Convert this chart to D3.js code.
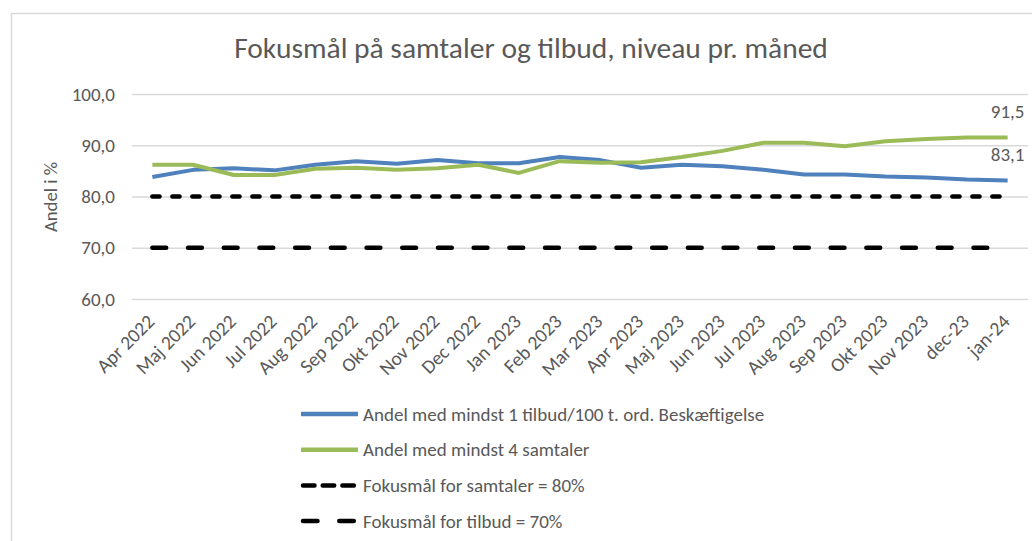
<!DOCTYPE html>
<html>
<head>
<meta charset="utf-8">
<script src="https://cdn.jsdelivr.net/npm/d3@7"></script>
<style>
  body { margin: 0; background: #fff; }
  text { font-family: Carlito, Calibri, Lato, sans-serif; fill: #595959; }
</style>
</head>
<body>
<div id="chart"></div>
<script>
// data
var months = ["Apr 2022", "Maj 2022", "Jun 2022", "Jul 2022", "Aug 2022", "Sep 2022",
  "Okt 2022", "Nov 2022", "Dec 2022", "Jan 2023", "Feb 2023", "Mar 2023", "Apr 2023",
  "Maj 2023", "Jun 2023", "Jul 2023", "Aug 2023", "Sep 2023", "Okt 2023", "Nov 2023",
  "dec-23", "jan-24"];
var tilbud = [83.8, 85.2, 85.5, 85.1, 86.2, 86.9, 86.4, 87.1, 86.5, 86.5, 87.7, 87.1,
  85.6, 86.2, 85.9, 85.2, 84.3, 84.3, 83.9, 83.7, 83.3, 83.1];
var samtaler = [86.2, 86.2, 84.2, 84.2, 85.4, 85.6, 85.2, 85.5, 86.2, 84.6, 86.9, 86.6,
  86.7, 87.7, 88.9, 90.5, 90.5, 89.8, 90.8, 91.2, 91.5, 91.5];
var maalSamtaler = 80;
var maalTilbud = 70;
var yTicks = [60, 70, 80, 90, 100];
var legendNames = ["Andel med mindst 1 tilbud/100 t. ord. Beskæftigelse",
  "Andel med mindst 4 samtaler", "Fokusmål for samtaler = 80%", "Fokusmål for tilbud = 70%"];

var svgWidth = 1032, svgHeight = 541;
var blue = "#4f81bd", green = "#9bbb59";
var font = "Carlito, Calibri, Lato, sans-serif";

var svg = d3.select("#chart").append("svg")
  .attr("width", svgWidth)
  .attr("height", svgHeight);

// chart frame
svg.append("rect")
  .attr("x", 11.5).attr("y", 13.5)
  .attr("width", 1100).attr("height", 700)
  .attr("fill", "none")
  .attr("stroke", "#d9d9d9")
  .attr("stroke-width", 1.5);

// title
svg.append("text")
  .attr("x", 531).attr("y", 58)
  .attr("text-anchor", "middle")
  .style("font-size", "29.5px")
  .text("Fokusmål på samtaler og tilbud, niveau pr. måned");

var x = d3.scalePoint().domain(months).range([132, 1028]).padding(0.5);
var y = d3.scaleLinear().domain([60, 100]).range([299, 94]);

// gridlines + y labels
var yAxis = d3.axisLeft(y).tickValues(yTicks)
  .tickSize(-(1028 - 132))
  .tickPadding(17)
  .tickFormat(d => d3.format(".1f")(d).replace(".", ","));

var gy = svg.append("g")
  .attr("transform", "translate(132,0)")
  .call(yAxis);
gy.select(".domain").remove();
gy.selectAll(".tick line").attr("stroke", "#d9d9d9").attr("stroke-width", 1.5);
gy.selectAll(".tick text")
  .style("font-size", "19px")
  .style("font-family", font)
  .attr("fill", "#595959");

// x labels
var xAxis = d3.axisBottom(x).tickSize(0);
var gx = svg.append("g")
  .attr("transform", "translate(0,299)")
  .call(xAxis);
gx.select(".domain").remove();
gx.selectAll(".tick text")
  .style("font-size", "19.5px")
  .style("font-family", font)
  .attr("fill", "#595959")
  .attr("text-anchor", "end")
  .attr("dy", "0.35em")
  .attr("y", 0)
  .attr("transform", "translate(-2,19) rotate(-45)");

// y axis title
svg.append("text")
  .attr("transform", "translate(57,197) rotate(-90)")
  .attr("text-anchor", "middle")
  .style("font-size", "18.7px")
  .text("Andel i %");

// target lines
var targets = [
  { v: maalSamtaler, dash: "7.2,12.8" },
  { v: maalTilbud, dash: "13.8,21.9" }
];
targets.forEach(function(t) {
  svg.append("path")
    .datum(months)
    .attr("d", d3.line().x(d => x(d)).y(() => y(t.v)))
    .attr("fill", "none")
    .attr("stroke", "#000")
    .attr("stroke-width", 4.5)
    .attr("stroke-linecap", "round")
    .attr("stroke-dasharray", t.dash);
});

// series lines
var line = d3.line().x((d, i) => x(months[i])).y(d => y(d));
svg.append("path").datum(tilbud)
  .attr("d", line).attr("fill", "none")
  .attr("stroke", blue).attr("stroke-width", 4).attr("stroke-linejoin", "round");
svg.append("path").datum(samtaler)
  .attr("d", line).attr("fill", "none")
  .attr("stroke", green).attr("stroke-width", 4).attr("stroke-linejoin", "round");

// end labels
var last = months.length - 1;
[samtaler, tilbud].forEach(function(s) {
  svg.append("text")
    .attr("x", x(months[last]))
    .attr("y", y(s[last]) - 20)
    .attr("text-anchor", "middle")
    .style("font-size", "19px")
    .text(d3.format(".1f")(s[last]).replace(".", ","));
});

// legend
var legendStyles = [
  { color: blue, dash: null },
  { color: green, dash: null },
  { color: "#000", dash: "11.5,8.2" },
  { color: "#000", dash: "14.5,21.8" }
];
var legend = svg.append("g").attr("transform", "translate(301,414)");
legendNames.forEach(function(name, i) {
  var row = legend.append("g").attr("transform", `translate(0, ${i * 35.7})`);
  var dashed = legendStyles[i].dash != null;
  row.append("line")
    .attr("x1", dashed ? 2 : 0).attr("x2", dashed ? 54 : 57)
    .attr("stroke", legendStyles[i].color)
    .attr("stroke-width", 4.5)
    .attr("stroke-linecap", dashed ? "round" : "butt")
    .attr("stroke-dasharray", legendStyles[i].dash);
  row.append("text")
    .attr("x", 62).attr("dy", "0.35em")
    .style("font-size", "19px")
    .text(name);
});
</script>
</body>
</html>
